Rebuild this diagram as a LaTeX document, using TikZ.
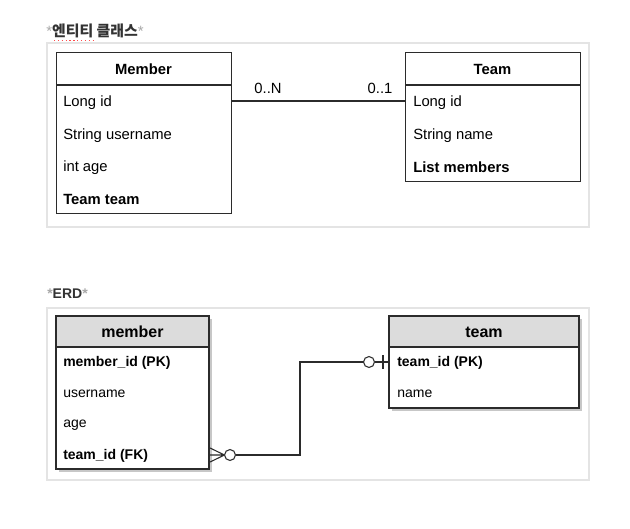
\documentclass[tikz,border=0pt]{standalone}
\usepackage{fontspec}
\setmainfont{Liberation Sans}
\newfontfamily\kor{Noto Sans CJK KR}
\usetikzlibrary{positioning}
\definecolor{lineclr}{HTML}{2B2B2B}
\definecolor{panelclr}{HTML}{E4E4E4}
\definecolor{headclr}{HTML}{DCDCDC}
\definecolor{starclr}{HTML}{A8A8A8}
\definecolor{titleclr}{HTML}{333333}
\tikzset{
  classbox/.style={draw=lineclr, line width=0.8pt, fill=white, inner sep=0pt, anchor=north west},
  erdbox/.style={classbox},
  shadowbox/.style={fill=black!22, draw=none, inner sep=0pt, anchor=north west},
  field/.style={anchor=west, inner sep=0pt, yshift=-1.1pt, font=\fontsize{11.1}{13}\selectfont},
  erdfield/.style={anchor=west, inner sep=0pt, yshift=-0.8pt, font=\fontsize{10.5}{12}\selectfont},
  title/.style={inner sep=0pt, font=\fontsize{11.1}{13}\selectfont\bfseries},
  erdtitle/.style={inner sep=0pt, font=\fontsize{12}{14}\selectfont\bfseries},
  panel/.style={draw=panelclr, line width=0.8pt},
  conn/.style={draw=lineclr, line width=0.8pt}
}
\begin{document}
\begin{tikzpicture}[x=0.75pt,y=-0.75pt]
  \useasboundingbox[fill=white] (0,0) rectangle (630,528);
  % headings
  \node[anchor=west, inner sep=0pt, text=titleclr, font=\fontsize{11.2}{13}\selectfont] (clsHead) at (46,31)
    {\textcolor{starclr}{*}{\kor\bfseries 엔티티 클래스}\textcolor{starclr}{*}};
  \draw[red!70, dotted, line width=0.9pt] (54,40.5) -- (95,40.5);
  \node[anchor=west, inner sep=0pt, text=titleclr, font=\fontsize{10.5}{12}\selectfont\bfseries] (erdHead) at (47,294)
    {\textcolor{starclr}{*}ERD\textcolor{starclr}{*}};
  % panels
  \draw[panel] (47,43) rectangle (589,227);
  \draw[panel] (47,308) rectangle (589,480);

  % entity classes
  \node[classbox, minimum width=131.25pt, minimum height=120.75pt] (Member) at (56,52) {};
  \draw[lineclr, line width=0.8pt] (56,85) -- (231,85);
  \node[title] (memberTitle) at (143.5,69) {Member};
  \node[field] (mId) at (63,101) {Long id};
  \node[field] (mName) at (63,134) {String username};
  \node[field] (mAge) at (63,166) {int age};
  \node[field, font=\fontsize{11.1}{13}\selectfont\bfseries] (mTeam) at (63,198) {Team team};

  \node[classbox, minimum width=131.25pt, minimum height=96.75pt] (Team) at (405,52) {};
  \draw[lineclr, line width=0.8pt] (405,85) -- (580,85);
  \node[title] (teamTitle) at (492.5,69) {Team};
  \node[field] (tId) at (413,101) {Long id};
  \node[field] (tName) at (413,134) {String name};
  \node[field, font=\fontsize{11.1}{13}\selectfont\bfseries] (tMembers) at (413,166) {List members};

  \draw[conn] (Member.east |- 0,101) -- (Team.west |- 0,101);
  \node[field, anchor=center] (manyLbl) at (268,87) {0..N};
  \node[field, anchor=center] (oneLbl) at (380,87) {0..1};

  % ERD
  \node[shadowbox, minimum width=114.75pt, minimum height=114.75pt] (memberShadow) at (59,319) {};
  \node[erdbox, minimum width=114.75pt, minimum height=114.75pt] (member) at (56,316) {};
  \fill[headclr] (56,316) rectangle (209,347);
  \draw[lineclr, line width=0.8pt] (56,316) rectangle (209,469) (56,347) -- (209,347);
  \node[erdtitle] (memberHead) at (132.5,332) {member};
  \node[erdfield, font=\fontsize{10.5}{12}\selectfont\bfseries] (memberId) at (63,362) {member\_id (PK)};
  \node[erdfield] (memberName) at (63,393) {username};
  \node[erdfield] (memberAge) at (63,424) {age};
  \node[erdfield, font=\fontsize{10.5}{12}\selectfont\bfseries] (memberFk) at (63,455) {team\_id (FK)};

  \node[shadowbox, minimum width=142.5pt, minimum height=69pt] (teamShadow) at (392,319) {};
  \node[erdbox, minimum width=142.5pt, minimum height=69pt] (team) at (389,316) {};
  \fill[headclr] (389,316) rectangle (579,347);
  \draw[lineclr, line width=0.8pt] (389,316) rectangle (579,408) (389,347) -- (579,347);
  \node[erdtitle] (teamHead) at (484,332) {team};
  \node[erdfield, font=\fontsize{10.5}{12}\selectfont\bfseries] (teamId) at (397,362) {team\_id (PK)};
  \node[erdfield] (teamName) at (397,393) {name};

  % zero-or-many to zero-or-one
  \coordinate (footTip) at (224.5,455);
  \coordinate (ringA) at (230,455);
  \coordinate (ringB) at (369,362);
  \coordinate (fkEnd) at (member.east |- 0,455);
  \coordinate (pkEnd) at (team.west |- 0,362);
  \draw[conn] (footTip) -- (fkEnd)
              (footTip) -- ([yshift=5.25pt]fkEnd)
              (footTip) -- ([yshift=-5.25pt]fkEnd);
  \draw[conn, fill=white] (ringA) circle[radius=4.1pt];
  \draw[conn] (235.5,455) -- (300,455) -- (300,362) -- (363.5,362);
  \draw[conn, fill=white] (ringB) circle[radius=4.1pt];
  \draw[conn] (374.5,362) -- (pkEnd);
  \draw[conn] (383,355) -- (383,369);
\end{tikzpicture}
\end{document}
